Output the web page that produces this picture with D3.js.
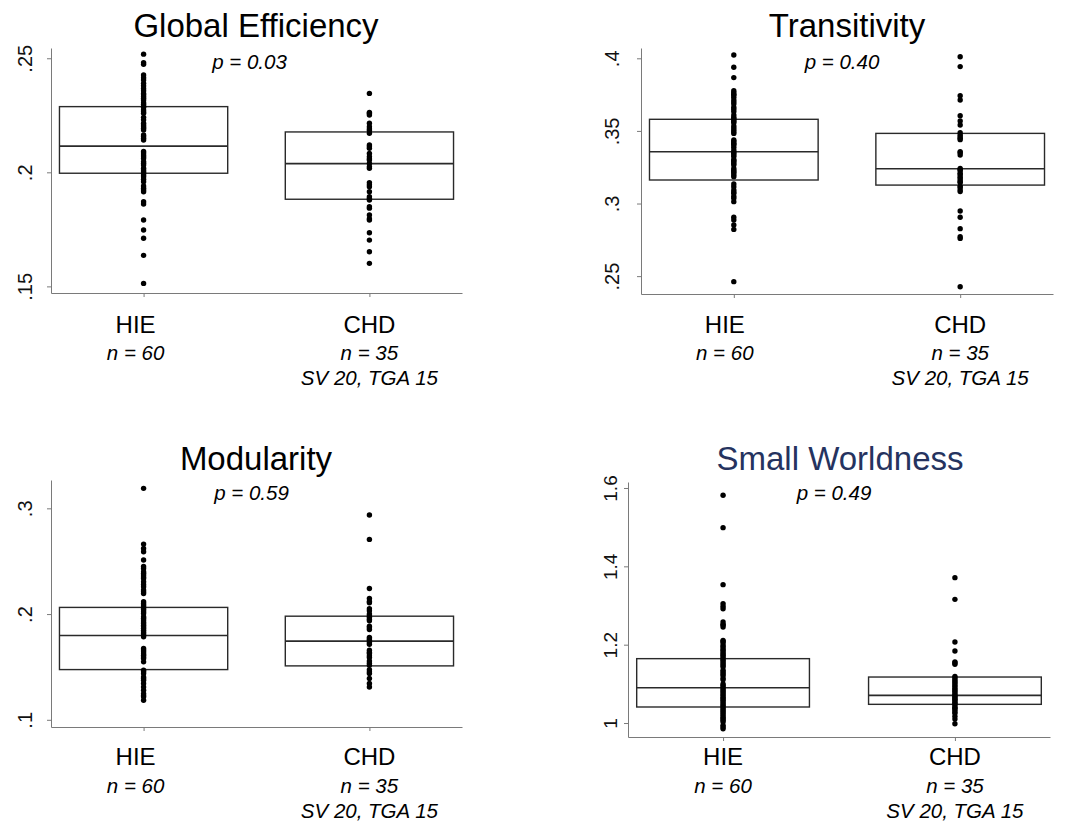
<!DOCTYPE html>
<html>
<head>
<meta charset="utf-8">
<script src="https://cdn.jsdelivr.net/npm/d3@7"></script>
<style>
  body { margin: 0; background: #fff; }
  text { font-family: "Liberation Sans", Arial, Helvetica, sans-serif; }
</style>
</head>
<body>
<svg id="chart"></svg>
<script>
// Groups and their labels
const groups = ["HIE", "CHD"]
const groupN = ["n = 60", "n = 35"]
const groupSub = ["", "SV 20, TGA 15"]

// Panel titles and p values
const titles = ["Global Efficiency", "Transitivity", "Modularity", "Small Worldness"]
const pLabels = ["p = 0.03", "p = 0.40", "p = 0.59", "p = 0.49"]

// Y ticks
const geTicks = [0.15, 0.2, 0.25]
const trTicks = [0.25, 0.3, 0.35, 0.4]
const moTicks = [0.1, 0.2, 0.3]
const swTicks = [1, 1.2, 1.4, 1.6]

// Box stats: [q1, median, q3] for HIE, CHD
const geBox = [[0.1996, 0.2115, 0.2288], [0.1882, 0.2038, 0.2177]]
const trBox = [[0.3162, 0.3357, 0.3580], [0.3127, 0.3240, 0.3483]]
const moBox = [[0.1475, 0.1797, 0.2063], [0.1510, 0.1744, 0.1980]]
const swBox = [[1.0409, 1.0902, 1.1643], [1.0477, 1.0706, 1.1174]]

// Individual subjects
const geHIE = [0.2518, 0.2481, 0.2474, 0.2427, 0.2415, 0.2405, 0.2379, 0.2368, 0.2358, 0.2346,
  0.2332, 0.2317, 0.2298, 0.2285, 0.2273, 0.2259, 0.2241, 0.2215, 0.2200, 0.2186,
  0.2164, 0.2149, 0.2142, 0.2091, 0.2076, 0.2061, 0.2047, 0.2032, 0.2018, 0.2003,
  0.1996, 0.1981, 0.1959, 0.1940, 0.1923, 0.1915, 0.1871, 0.1861, 0.1791, 0.1747,
  0.1711, 0.1636, 0.1513, 0.2390, 0.2340, 0.2325, 0.2305, 0.2290, 0.2265, 0.2230,
  0.2208, 0.2193, 0.2157, 0.2085, 0.2068, 0.2040, 0.2010, 0.1988, 0.1970, 0.1930]
const geCHD = [0.2346, 0.2262, 0.2251, 0.2215, 0.2200, 0.2183, 0.2171, 0.2120, 0.2105, 0.2083,
  0.2069, 0.2054, 0.2039, 0.2018, 0.1955, 0.1937, 0.1915, 0.1893, 0.1879, 0.1849,
  0.1813, 0.1791, 0.1735, 0.1703, 0.1652, 0.1601, 0.2258, 0.2190, 0.2112, 0.2060,
  0.2025, 0.1945, 0.1885, 0.1843, 0.1797]

const trHIE = [0.4023, 0.3938, 0.3867, 0.3777, 0.3764, 0.3747, 0.3731, 0.3713, 0.3685, 0.3663,
  0.3633, 0.3610, 0.3594, 0.3575, 0.3557, 0.3534, 0.3506, 0.3483, 0.3438, 0.3419,
  0.3403, 0.3387, 0.3369, 0.3346, 0.3323, 0.3304, 0.3288, 0.3265, 0.3242, 0.3219,
  0.3197, 0.3185, 0.3135, 0.3116, 0.3093, 0.3070, 0.3036, 0.3013, 0.2905, 0.2887,
  0.2852, 0.2822, 0.2462, 0.3750, 0.3700, 0.3650, 0.3585, 0.3565, 0.3520, 0.3495,
  0.3430, 0.3410, 0.3355, 0.3335, 0.3295, 0.3275, 0.3230, 0.3210, 0.3080, 0.3050]
const trCHD = [0.4011, 0.3943, 0.3743, 0.3713, 0.3605, 0.3568, 0.3541, 0.3488, 0.3472, 0.3449,
  0.3357, 0.3334, 0.3242, 0.3226, 0.3208, 0.3185, 0.3162, 0.3144, 0.3112, 0.3082,
  0.2949, 0.2905, 0.2827, 0.2772, 0.2760, 0.2427, 0.3460, 0.3440, 0.3350, 0.3235,
  0.3200, 0.3175, 0.3150, 0.3120, 0.3095]

const moHIE = [0.3189, 0.2662, 0.2621, 0.2590, 0.2511, 0.2432, 0.2400, 0.2369, 0.2337, 0.2306,
  0.2258, 0.2227, 0.2195, 0.2116, 0.2085, 0.2053, 0.2022, 0.1974, 0.1943, 0.1911,
  0.1879, 0.1848, 0.1816, 0.1785, 0.1674, 0.1643, 0.1611, 0.1580, 0.1548, 0.1469,
  0.1437, 0.1406, 0.1374, 0.1343, 0.1311, 0.1280, 0.1248, 0.1217, 0.1185, 0.2450,
  0.2385, 0.2350, 0.2280, 0.2210, 0.2100, 0.2070, 0.2040, 0.2005, 0.1960, 0.1925,
  0.1895, 0.1865, 0.1830, 0.1800, 0.1660, 0.1625, 0.1595, 0.1455, 0.1390, 0.1230]
const moCHD = [0.2937, 0.2706, 0.2242, 0.2148, 0.2107, 0.2031, 0.2000, 0.1968, 0.1936, 0.1886,
  0.1854, 0.1778, 0.1753, 0.1715, 0.1658, 0.1627, 0.1589, 0.1557, 0.1516, 0.1475,
  0.1438, 0.1390, 0.1343, 0.1311, 0.2120, 0.2050, 0.1985, 0.1950, 0.1870, 0.1765,
  0.1730, 0.1640, 0.1605, 0.1535, 0.1455]

const swHIE = [1.5813, 1.4987, 1.3532, 1.3047, 1.2979, 1.2919, 1.2579, 1.2519, 1.2451, 1.2111,
  1.2043, 1.1940, 1.1855, 1.1770, 1.1685, 1.1600, 1.1515, 1.1430, 1.1302, 1.1217,
  1.1106, 1.0962, 1.0877, 1.0791, 1.0706, 1.0621, 1.0536, 1.0451, 1.0366, 1.0281,
  1.0196, 1.0111, 1.0026, 0.9940, 0.9855, 1.2500, 1.2080, 1.1980, 1.1890, 1.1810,
  1.1730, 1.1640, 1.1560, 1.1470, 1.1350, 1.1260, 1.1150, 1.1000, 1.0920, 1.0830,
  1.0750, 1.0660, 1.0580, 1.0490, 1.0410, 1.0320, 1.0240, 1.0150, 1.0070, 0.9900]
const swCHD = [1.3711, 1.3157, 1.2068, 1.1838, 1.1557, 1.1498, 1.1191, 1.1106, 1.1021, 1.0936,
  1.0851, 1.0766, 1.0664, 1.0562, 1.0451, 1.0340, 1.0170, 0.9983, 1.1540, 1.1150,
  1.1060, 1.0980, 1.0890, 1.0810, 1.0720, 1.0690, 1.0620, 1.0600, 1.0520, 1.0500,
  1.0400, 1.0380, 1.0290, 1.0250, 1.0100]

// Panel layout (pixel frame of each plot + its axis range)
const panels = [
  { title: titles[0], p: pLabels[0], ticks: geTicks, box: geBox, pts: [geHIE, geCHD],
    domain: [0.1471, 0.2545], left: 51, right: 462, top: 48, bottom: 293,
    tickGap: 19, tickSize: 20, labelShift: -8, row: 0, titleX: 256 },
  { title: titles[1], p: pLabels[1], ticks: trTicks, box: trBox, pts: [trHIE, trCHD],
    domain: [0.2377, 0.4071], left: 641, right: 1053, top: 48, bottom: 294,
    tickGap: 22, tickSize: 20, labelShift: -9, row: 0, titleX: 847 },
  { title: titles[2], p: pLabels[2], ticks: moTicks, box: moBox, pts: [moHIE, moCHD],
    domain: [0.0932, 0.3268], left: 51, right: 462, top: 480, bottom: 727,
    tickGap: 19, tickSize: 20, labelShift: -8, row: 1, titleX: 256 },
  { title: titles[3], p: pLabels[3], ticks: swTicks, box: swBox, pts: [swHIE, swCHD],
    domain: [0.9643, 1.6153], left: 628, right: 1050, top: 482, bottom: 737,
    tickGap: 11, tickSize: 19, labelShift: 0, row: 1, titleX: 840, color: "#25335f" }
]

const rowTitleY = [37, 470]
const rowPY = [69, 500]
const rowLabelY = [[333, 360, 385], [765, 793, 818]]

const svg = d3.select("#chart")
  .attr("width", 1074)
  .attr("height", 822)

const tickFmt = d => d3.format("")(d).replace(/^0\./, ".")

panels.forEach(function(pn) {
  const g = svg.append("g")

  const x = d3.scalePoint()
    .domain(groups)
    .range([pn.left, pn.right])
    .padding(0.41)

  const y = d3.scaleLinear()
    .domain(pn.domain)
    .range([pn.bottom, pn.top])

  const boxW = x.step() * 0.745

  // Y axis
  const yAxis = g.append("g")
    .attr("transform", `translate(${pn.left},0)`)
    .call(d3.axisLeft(y).tickValues(pn.ticks).tickSize(4).tickSizeOuter(0).tickFormat(tickFmt))
  yAxis.select(".domain").attr("stroke", "#7a7a7a")
  yAxis.selectAll(".tick line").attr("stroke", "#7a7a7a")
  yAxis.selectAll(".tick text")
    .attr("transform", "rotate(-90)")
    .attr("x", 0)
    .attr("y", -pn.tickGap)
    .attr("dy", 0)
    .attr("text-anchor", "middle")
    .attr("font-size", pn.tickSize)
    .attr("fill", "#111")
    .style("font-family", "'Liberation Sans', Arial, sans-serif")

  // X axis
  const xAxis = g.append("g")
    .attr("transform", `translate(0,${pn.bottom})`)
    .call(d3.axisBottom(x).tickSize(4).tickSizeOuter(0).tickFormat(""))
  xAxis.select(".domain").attr("stroke", "#7a7a7a")
  xAxis.selectAll(".tick line").attr("stroke", "#7a7a7a")

  // Boxes
  groups.forEach(function(grp, i) {
    const b = pn.box[i]
    const cx = x(grp)
    g.append("rect")
      .attr("x", cx - boxW / 2)
      .attr("y", y(b[2]))
      .attr("width", boxW)
      .attr("height", y(b[0]) - y(b[2]))
      .attr("fill", "none")
      .attr("stroke", "#2a2a2a")
      .attr("stroke-width", 1.4)
    g.append("line")
      .attr("x1", cx - boxW / 2)
      .attr("x2", cx + boxW / 2)
      .attr("y1", y(b[1]))
      .attr("y2", y(b[1]))
      .attr("stroke", "#2a2a2a")
      .attr("stroke-width", 1.6)

    // Points
    g.append("g")
      .selectAll("circle")
      .data(pn.pts[i])
      .join("circle")
      .attr("cx", cx)
      .attr("cy", d => y(d))
      .attr("r", 2.7)
      .attr("fill", "#000")

    // Group labels
    const lx = cx + (i === 0 ? pn.labelShift : 0)
    const ly = rowLabelY[pn.row]
    g.append("text")
      .attr("x", lx).attr("y", ly[0])
      .attr("text-anchor", "middle")
      .attr("font-size", 24)
      .text(grp)
    g.append("text")
      .attr("x", lx).attr("y", ly[1])
      .attr("text-anchor", "middle")
      .attr("font-size", 20.5)
      .attr("font-style", "italic")
      .text(groupN[i])
    if (groupSub[i]) {
      g.append("text")
        .attr("x", lx).attr("y", ly[2])
        .attr("text-anchor", "middle")
        .attr("font-size", 20.5)
        .attr("font-style", "italic")
        .text(groupSub[i])
    }
  })

  // Title
  g.append("text")
    .attr("x", pn.titleX)
    .attr("y", rowTitleY[pn.row])
    .attr("text-anchor", "middle")
    .attr("font-size", 33)
    .attr("fill", pn.color || "#000")
    .text(pn.title)

  // p value
  g.append("text")
    .attr("x", (pn.left + pn.right) / 2 + (pn.row === 0 && pn.left < 100 ? -7 : -5))
    .attr("y", rowPY[pn.row])
    .attr("text-anchor", "middle")
    .attr("font-size", 20.5)
    .attr("font-style", "italic")
    .text(pn.p)
})
</script>
</body>
</html>
